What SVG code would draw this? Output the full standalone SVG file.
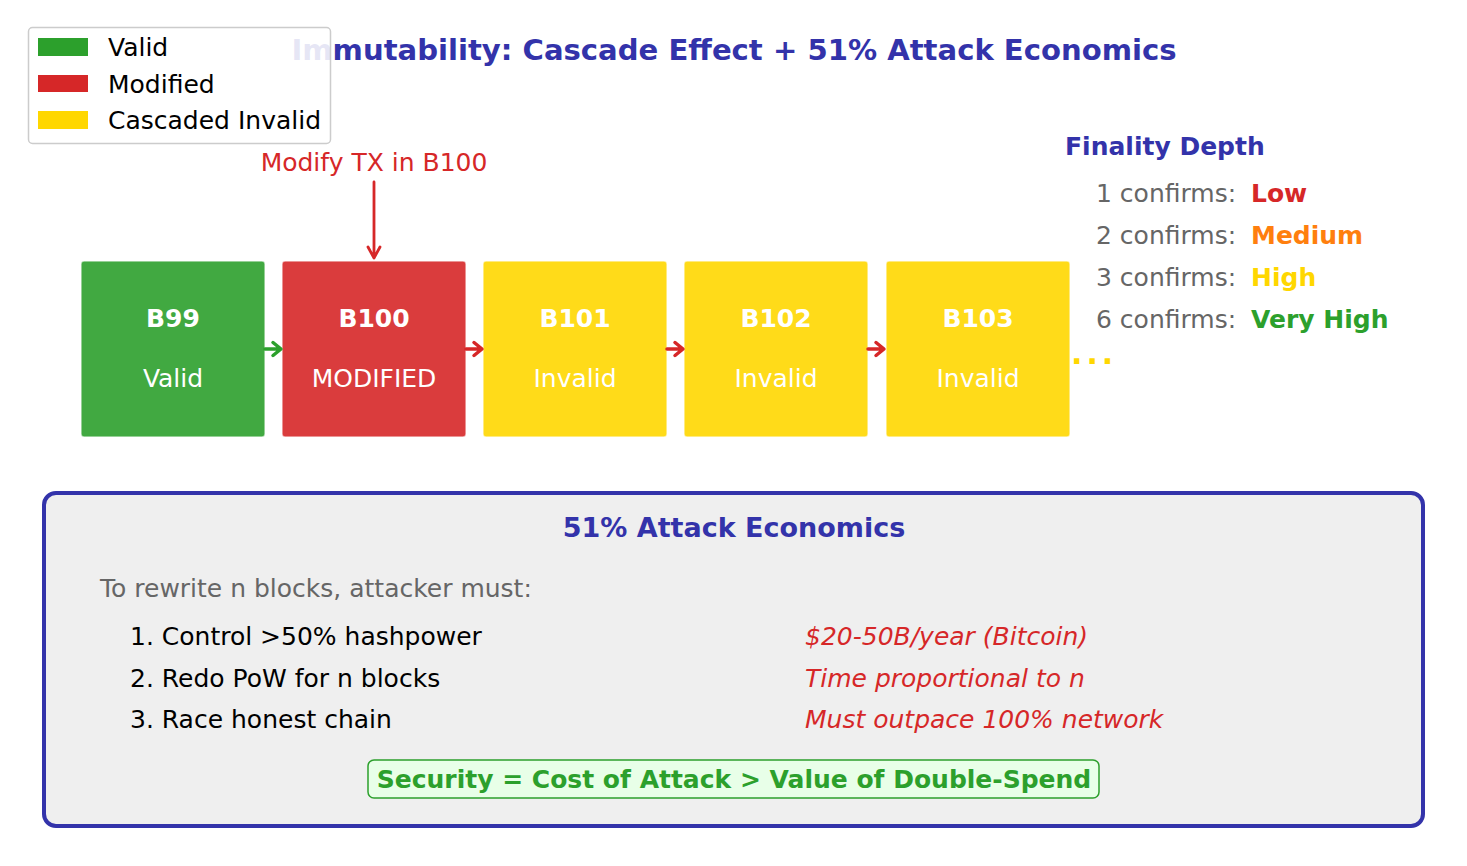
<svg xmlns="http://www.w3.org/2000/svg" width="1467" height="866" viewBox="0 0 1467 866">
<defs>
<style>
text{font-family:"DejaVu Sans","Liberation Sans",sans-serif;}
.t22{font-size:25px;}
.b{font-weight:bold;}
.blk{stroke:#ffffff;stroke-opacity:0.6;stroke-width:1.5;}
.bt{fill:#ffffff;font-size:25px;text-anchor:middle;}
.gray{fill:#666666;}
.red{fill:#d62728;}
.navy{fill:#3333aa;}
.conn{fill:none;stroke-width:3.5;stroke-linecap:round;stroke-linejoin:round;}
</style>
</defs>
<rect width="1467" height="866" fill="#ffffff"/>
<text x="734" y="60" class="b navy" font-size="29.1" text-anchor="middle">Immutability: Cascade Effect + 51% Attack Economics</text>
<g id="legend">
<rect x="28.5" y="27.5" width="302" height="116" rx="4" fill="#ffffff" fill-opacity="0.88" stroke="#cccccc" stroke-width="1.5"/>
<rect x="38" y="38" width="50" height="18" fill="#2ca02c"/>
<rect x="38" y="75" width="50" height="17" fill="#d62728"/>
<rect x="38" y="111" width="50" height="18" fill="#ffd700"/>
<text x="108" y="56" class="t22">Valid</text>
<text x="108" y="93" class="t22">Modified</text>
<text x="108" y="129" class="t22">Cascaded Invalid</text>
</g>
<g id="modify-label">
<text x="374" y="171" class="t22 red" text-anchor="middle">Modify TX in B100</text>
</g>
<g id="b99"><rect x="81" y="261" width="184" height="176" rx="3" fill="#2ca02c" fill-opacity="0.9" class="blk"/><text x="173" y="327" class="bt b">B99</text><text x="173" y="387" class="bt">Valid</text></g>
<g id="b100"><rect x="282" y="261" width="184" height="176" rx="3" fill="#d62728" fill-opacity="0.9" class="blk"/><text x="374" y="327" class="bt b">B100</text><text x="374" y="387" class="bt">MODIFIED</text></g>
<g id="b101"><rect x="483" y="261" width="184" height="176" rx="3" fill="#ffd700" fill-opacity="0.9" class="blk"/><text x="575" y="327" class="bt b">B101</text><text x="575" y="387" class="bt">Invalid</text></g>
<g id="b102"><rect x="684" y="261" width="184" height="176" rx="3" fill="#ffd700" fill-opacity="0.9" class="blk"/><text x="776" y="327" class="bt b">B102</text><text x="776" y="387" class="bt">Invalid</text></g>
<g id="b103"><rect x="886" y="261" width="184" height="176" rx="3" fill="#ffd700" fill-opacity="0.9" class="blk"/><text x="978" y="327" class="bt b">B103</text><text x="978" y="387" class="bt">Invalid</text></g>
<g id="ellipsis"><text x="1071" y="364" fill="#ffd700" font-size="30" font-weight="bold" letter-spacing="4">...</text></g>
<g id="connectors">
<path d="M265,349 H280 M273,342.5 L281,349 L273,355.5" stroke="#2ca02c" class="conn"/>
<path d="M466,349 H481 M474,342.5 L482,349 L474,355.5" stroke="#d62728" class="conn"/>
<path d="M667,349 H682 M675,342.5 L683,349 L675,355.5" stroke="#d62728" class="conn"/>
<path d="M868,349 H883 M876,342.5 L884,349 L876,355.5" stroke="#d62728" class="conn"/>
<path d="M374,182 V257 M368,247 L374,258 L380,247" stroke="#d62728" stroke-width="2.8" fill="none" stroke-linecap="round" stroke-linejoin="round"/>
</g>
<g id="finality">
<text x="1065" y="155" class="t22 b navy">Finality Depth</text>
<text x="1096" y="202" class="t22 gray">1 confirms:</text><text x="1251" y="202" class="t22 b" fill="#d62728">Low</text>
<text x="1096" y="244" class="t22 gray">2 confirms:</text><text x="1251" y="244" class="t22 b" fill="#ff7f0e">Medium</text>
<text x="1096" y="286" class="t22 gray">3 confirms:</text><text x="1251" y="286" class="t22 b" fill="#ffd700">High</text>
<text x="1096" y="328" class="t22 gray">6 confirms:</text><text x="1251" y="328" class="t22 b" fill="#2ca02c">Very High</text>
</g>
<g id="economics">
<rect x="44" y="493" width="1379" height="333" rx="12" fill="#efefef" stroke="#3333aa" stroke-width="4"/>
<text x="734" y="537" class="b navy" font-size="27" text-anchor="middle">51% Attack Economics</text>
<text x="100" y="597" class="t22 gray">To rewrite n blocks, attacker must:</text>
<text x="130" y="645" class="t22" fill="#000000">1. Control &gt;50% hashpower</text>
<text x="130" y="687" class="t22" fill="#000000">2. Redo PoW for n blocks</text>
<text x="130" y="728" class="t22" fill="#000000">3. Race honest chain</text>
<text x="805" y="645" class="t22 red" font-style="italic">$20-50B/year (Bitcoin)</text>
<text x="805" y="687" class="t22 red" font-style="italic">Time proportional to n</text>
<text x="805" y="728" class="t22 red" font-style="italic">Must outpace 100% network</text>
</g>
<g id="security">
<rect x="368" y="760" width="731" height="38" rx="6" fill="#e8ffe8" stroke="#2ca02c" stroke-width="1.5"/>
<text x="734" y="788" class="t22 b" fill="#2ca02c" text-anchor="middle">Security = Cost of Attack &gt; Value of Double-Spend</text>
</g>
</svg>
